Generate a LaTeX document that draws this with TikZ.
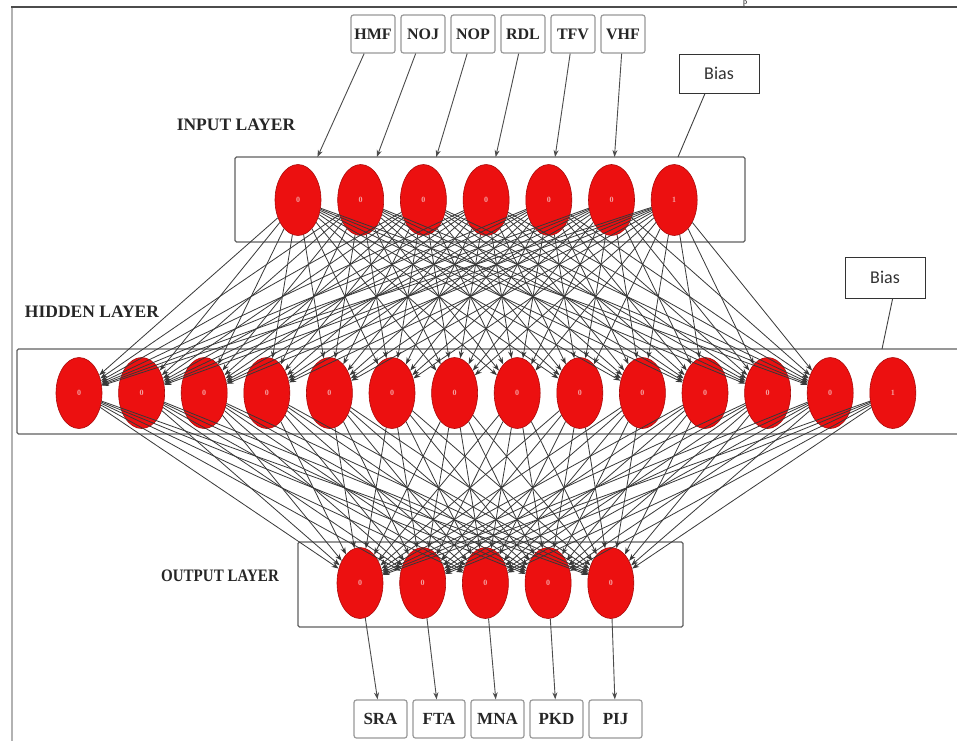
\documentclass[tikz,border=0pt]{standalone}
\usepackage{fontspec}
\setmainfont{Liberation Serif}
\newfontfamily\biasfont{Carlito}
\usetikzlibrary{shapes.geometric,arrows.meta,calc}
\definecolor{nred}{RGB}{236,16,16}
\definecolor{nedge}{RGB}{170,10,10}
\definecolor{npink}{RGB}{245,160,160}
\begin{document}
\begin{tikzpicture}[x=1pt,y=-1pt,
  neuron/.style={ellipse, minimum width=46pt, minimum height=71pt, inner sep=0pt,
    fill=nred, draw=nedge, line width=0.6pt,
    font=\fontsize{8}{8}\selectfont\bfseries, text=npink},
  lbl/.style={draw=gray!80, line width=1.2pt, rounded corners=2.5pt, minimum height=38pt,
    inner sep=0pt, font=\fontsize{16}{16}\selectfont\bfseries, text=black!85},
  olbl/.style={lbl, font=\fontsize{17}{17}\selectfont\bfseries},
  layerbox/.style={draw=gray!75!black, line width=1.3pt, rounded corners=1.5pt,
    minimum height=85pt, inner sep=0pt},
  biasbox/.style={draw=black!80, line width=1pt, minimum width=80pt, minimum height=40pt,
    inner sep=0pt, font=\biasfont\fontsize{18}{18}\selectfont, text=black!80},
  layerlbl/.style={font=\fontsize{17.5}{17.5}\selectfont\bfseries, text=black!85, inner sep=0pt},
  conn/.style={draw=black!78, line width=0.8pt, -{Stealth[length=7pt,width=5pt]}},
  labarr/.style={draw=black!70, line width=0.9pt, -{Stealth[length=7pt,width=5pt]}},
  biasline/.style={draw=black!75, line width=0.9pt}
]
\useasboundingbox (0,0) rectangle (957,740);
\fill[white] (0,0) rectangle (957,740);
% outer frame
\draw[gray!60, line width=2pt] (12,745) -- (12,8);
\draw[black!70, line width=1.5pt] (11,7) -- (960,7);
\node[anchor=base, inner sep=0pt, font=\fontsize{8}{8}\selectfont] (ptxt) at (745,4.6) {p};
% layer boxes
\node[layerbox, minimum width=510pt] (ibox) at (490,199.5) {};
\node[layerbox, minimum width=948pt] (hbox) at (491,391.5) {};
\node[layerbox, minimum width=385pt] (obox) at (490.5,584.5) {};
% layer labels
\node[layerlbl] (ilbl) at (236,125) {INPUT LAYER};
\node[layerlbl] (hlbl) at (92,312) {HIDDEN LAYER};
\node[layerlbl] (olbl) at (220,576) {\scalebox{0.86}[1]{OUTPUT LAYER}};
% neurons
\foreach \i in {1,...,7}
  \node[neuron] (i\i) at ({298+62.7*(\i-1)},200) {\ifnum\i=7 1\else 0\fi};
\foreach \i in {1,...,14}
  \node[neuron] (h\i) at ({79+62.6*(\i-1)},393) {\ifnum\i=14 1\else 0\fi};
\foreach \i in {1,...,5}
  \node[neuron] (o\i) at ({360+62.7*(\i-1)},583) {0};
% input labels
\node[lbl, minimum width=44pt] (hmf) at (373,34) {HMF};
\node[lbl, minimum width=44pt] (noj) at (423,34) {NOJ};
\node[lbl, minimum width=44pt] (nop) at (473,34) {NOP};
\node[lbl, minimum width=44pt] (rdl) at (523,34) {RDL};
\node[lbl, minimum width=44pt] (tfv) at (573,34) {TFV};
\node[lbl, minimum width=44pt] (vhf) at (623,34) {VHF};
\foreach \n/\t in {hmf/i1,noj/i2,nop/i3,rdl/i4,tfv/i5,vhf/i6}
  \draw[labarr] (\n) -- ($(\n)!0.741!(\t)$);
% output labels
\node[olbl, minimum width=53pt] (sra) at (380.5,719) {SRA};
\node[olbl, minimum width=52pt] (fta) at (439,719) {FTA};
\node[olbl, minimum width=53pt] (mna) at (497.5,719) {MNA};
\node[olbl, minimum width=53pt] (pkd) at (556.5,719) {PKD};
\node[olbl, minimum width=53pt] (pij) at (615.5,719) {PIJ};
\foreach \o/\n in {o1/sra,o2/fta,o3/mna,o4/pkd,o5/pij}
  \draw[labarr] (\o) -- (\n);
% bias boxes
\node[biasbox, minimum height=39pt] (bias1) at (719,73.5) {Bias};
\coordinate (b1end) at (678,157);
\draw[biasline] (bias1.235) -- (b1end);
\node[biasbox, minimum height=41pt] (bias2) at (885,277.5) {Bias};
\coordinate (b2end) at (882,349);
\draw[biasline] (bias2.290) -- (b2end);
% connections
\foreach \a in {1,...,7}
  \foreach \b in {1,...,13}
    \draw[conn] (i\a) -- (h\b);
\foreach \a in {1,...,14}
  \foreach \b in {1,...,5}
    \draw[conn] (h\a) -- (o\b);
\end{tikzpicture}
\end{document}
